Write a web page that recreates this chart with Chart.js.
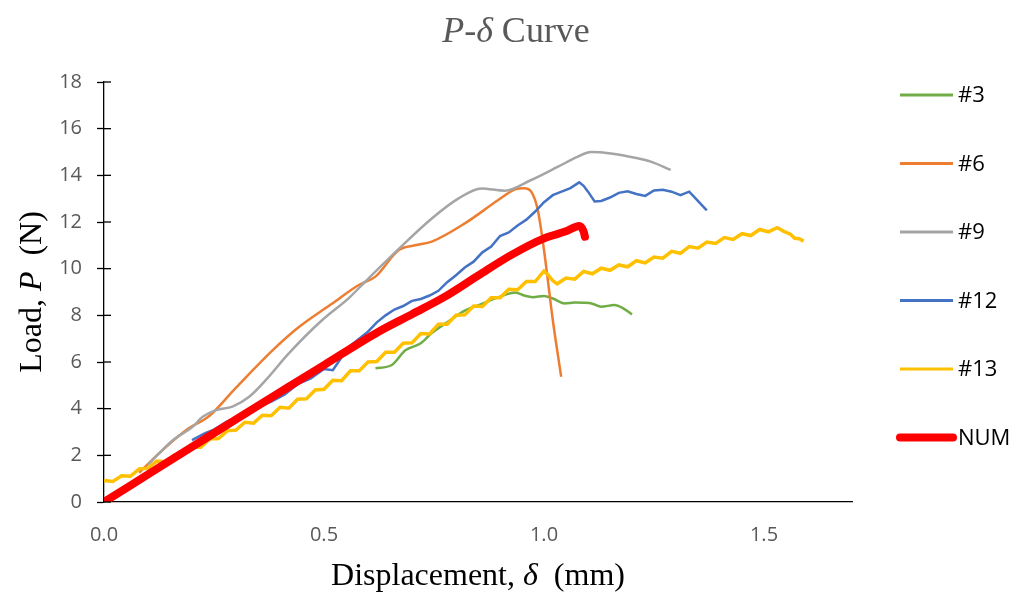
<!DOCTYPE html>
<html>
<head>
<meta charset="utf-8">
<title>P-δ Curve</title>
<script src="https://cdn.jsdelivr.net/npm/chart.js@4.4.1/dist/chart.umd.min.js"></script>
<style>
  html, body { margin: 0; padding: 0; background: #fff; }
  #wrap { width: 1016px; height: 594px; }
</style>
</head>
<body>
<div id="wrap"><canvas id="pdChart" width="1016" height="594"></canvas></div>
<script>
// Specimen #3
const disp3 = [0.617, 0.654, 0.685, 0.72, 0.745, 0.78, 0.82, 0.86, 0.9, 0.935, 0.955, 0.975, 1.0, 1.02, 1.047, 1.07, 1.09, 1.11, 1.13, 1.16, 1.18, 1.2];
const load3 = [5.73, 5.87, 6.5, 6.8, 7.24, 7.7, 8.2, 8.5, 8.8, 8.98, 8.85, 8.78, 8.83, 8.72, 8.51, 8.55, 8.54, 8.5, 8.37, 8.44, 8.3, 8.04];

// Specimen #6
const disp6 = [0.08, 0.12, 0.187, 0.24, 0.30, 0.383, 0.443, 0.518, 0.579, 0.617, 0.67, 0.707, 0.745, 0.82, 0.896, 0.934, 0.955, 0.971, 0.986, 1.0, 1.02, 1.039];
const load6 = [1.25, 2.0, 3.09, 3.7, 4.9, 6.5, 7.5, 8.5, 9.3, 9.66, 10.8, 11.0, 11.16, 11.94, 12.94, 13.4, 13.45, 13.3, 12.5, 10.8, 7.8, 5.37];

// Specimen #9
const disp9 = [0.1, 0.157, 0.2, 0.225, 0.255, 0.292, 0.33, 0.368, 0.42, 0.496, 0.557, 0.594, 0.67, 0.745, 0.805, 0.858, 0.911, 0.971, 1.032, 1.077, 1.107, 1.152, 1.213, 1.243, 1.288];
const load9 = [1.6, 2.66, 3.2, 3.66, 3.94, 4.09, 4.51, 5.23, 6.37, 7.8, 8.75, 9.45, 10.85, 12.15, 13.0, 13.44, 13.34, 13.8, 14.37, 14.8, 15.0, 14.94, 14.73, 14.59, 14.23];

// Specimen #12
const disp12 = [0.20, 0.23, 0.25, 0.28, 0.31, 0.35, 0.38, 0.41, 0.44, 0.47, 0.50, 0.52, 0.54, 0.56, 0.58, 0.60, 0.62, 0.64, 0.66, 0.68, 0.70, 0.72, 0.74, 0.76, 0.78, 0.80, 0.82, 0.84, 0.86, 0.88, 0.90, 0.92, 0.94, 0.96, 0.98, 1.00, 1.02, 1.04, 1.06, 1.08, 1.09, 1.10, 1.115, 1.13, 1.15, 1.17, 1.19, 1.21, 1.23, 1.25, 1.27, 1.29, 1.31, 1.33, 1.345, 1.355, 1.37];
const load12 = [2.65, 2.95, 3.10, 3.45, 3.60, 4.05, 4.30, 4.60, 5.05, 5.30, 5.70, 5.65, 6.20, 6.70, 7.00, 7.30, 7.70, 8.00, 8.25, 8.40, 8.62, 8.70, 8.85, 9.05, 9.42, 9.72, 10.05, 10.30, 10.70, 10.95, 11.40, 11.55, 11.85, 12.10, 12.45, 12.85, 13.15, 13.30, 13.45, 13.70, 13.55, 13.30, 12.88, 12.90, 13.05, 13.25, 13.32, 13.20, 13.12, 13.35, 13.38, 13.30, 13.15, 13.30, 13.00, 12.80, 12.50];

// Specimen #13
const disp13 = [0, 0.02, 0.04, 0.06, 0.08, 0.10, 0.12, 0.14, 0.16, 0.18, 0.20, 0.22, 0.24, 0.26, 0.28, 0.30, 0.32, 0.34, 0.36, 0.38, 0.40, 0.42, 0.44, 0.46, 0.48, 0.50, 0.52, 0.54, 0.56, 0.58, 0.60, 0.62, 0.64, 0.66, 0.68, 0.70, 0.72, 0.74, 0.76, 0.78, 0.80, 0.82, 0.84, 0.86, 0.88, 0.90, 0.92, 0.94, 0.96, 0.98, 1.00, 1.01, 1.02, 1.03, 1.05, 1.07, 1.09, 1.11, 1.13, 1.15, 1.17, 1.19, 1.21, 1.23, 1.25, 1.27, 1.29, 1.31, 1.33, 1.35, 1.37, 1.39, 1.41, 1.43, 1.45, 1.47, 1.49, 1.51, 1.53, 1.545, 1.56, 1.57, 1.58, 1.59];
const load13 = [0.92, 0.88, 1.12, 1.10, 1.42, 1.45, 1.75, 1.72, 2.02, 2.05, 2.36, 2.35, 2.70, 2.72, 3.05, 3.08, 3.42, 3.38, 3.72, 3.70, 4.06, 4.02, 4.40, 4.42, 4.80, 4.83, 5.22, 5.20, 5.62, 5.62, 6.00, 6.02, 6.42, 6.42, 6.80, 6.82, 7.22, 7.20, 7.62, 7.62, 8.00, 8.02, 8.40, 8.38, 8.75, 8.75, 9.12, 9.10, 9.45, 9.45, 9.90, 9.72, 9.48, 9.35, 9.60, 9.55, 9.88, 9.78, 10.02, 9.93, 10.16, 10.08, 10.34, 10.25, 10.50, 10.45, 10.74, 10.66, 10.95, 10.88, 11.14, 11.08, 11.33, 11.25, 11.50, 11.42, 11.68, 11.58, 11.76, 11.60, 11.48, 11.30, 11.28, 11.18];

// Numerical model
const dispNum = [0, 0.1, 0.2, 0.3, 0.42, 0.5, 0.624, 0.7, 0.775, 0.85, 0.925, 1.0, 1.05, 1.08, 1.09, 1.093];
const loadNum = [0, 1.18, 2.36, 3.54, 4.94, 5.87, 7.3, 8.05, 8.8, 9.7, 10.58, 11.3, 11.6, 11.83, 11.6, 11.37];

const xTicks = [0, 0.5, 1.0, 1.5];

function pts(xs, ys) {
    return xs.map((x, i) => ({ x: x, y: ys[i] }));
}

const datasets = [
    { label: '#3', data: pts(disp3, load3), borderColor: '#70AD47', borderWidth: 2.5, cubicInterpolationMode: 'monotone', order: 6 },
    { label: '#6', data: pts(disp6, load6), borderColor: '#ED7D31', borderWidth: 2.5, cubicInterpolationMode: 'monotone', order: 5 },
    { label: '#9', data: pts(disp9, load9), borderColor: '#A5A5A5', borderWidth: 2.5, cubicInterpolationMode: 'monotone', order: 4 },
    { label: '#12', data: pts(disp12, load12), borderColor: '#4472C4', borderWidth: 2.5, order: 3 },
    { label: '#13', data: pts(disp13, load13), borderColor: '#FFC000', borderWidth: 3.5, order: 2 },
    { label: 'NUM', data: pts(dispNum, loadNum), borderColor: '#FF0000', borderWidth: 8, cubicInterpolationMode: 'monotone',
      borderCapStyle: 'round', borderJoinStyle: 'round', order: 1 }
];
datasets.forEach(d => { d.showLine = true; d.pointRadius = 0; d.fill = false; });

// draws a string made of upright and italic pieces, centred on cx
function drawRich(ctx, parts, cx, baseline, size, color) {
    const fontOf = it => (it ? 'italic ' : '') + size + 'px "Liberation Serif", "Times New Roman", serif';
    let total = 0;
    parts.forEach(p => { ctx.font = fontOf(p[1]); total += ctx.measureText(p[0]).width; });
    let x = cx - total / 2;
    ctx.fillStyle = color;
    ctx.textBaseline = 'alphabetic';
    ctx.textAlign = 'left';
    parts.forEach(p => {
        ctx.font = fontOf(p[1]);
        ctx.fillText(p[0], x, baseline);
        x += ctx.measureText(p[0]).width;
    });
}

const extrasPlugin = {
    id: 'pdExtras',
    afterDraw(chart) {
        const ctx = chart.ctx;
        const area = chart.chartArea;
        const yScale = chart.scales.y;
        ctx.save();

        // inner half of the y tick marks
        ctx.strokeStyle = '#000';
        ctx.lineWidth = 1.3;
        yScale.ticks.forEach(t => {
            const py = yScale.getPixelForValue(t.value);
            ctx.beginPath();
            ctx.moveTo(area.left, py);
            ctx.lineTo(area.left + 7, py);
            ctx.stroke();
        });

        // title and axis titles
        drawRich(ctx, [['P', true], ['-', false], ['δ', true], [' Curve', false]], 516, 42, 36, '#595959');
        drawRich(ctx, [['Displacement, ', false], ['δ', true], ['  (mm)', false]], (area.left + area.right) / 2, 585, 32, '#000');
        ctx.save();
        ctx.translate(41, (area.top + area.bottom) / 2);
        ctx.rotate(-Math.PI / 2);
        drawRich(ctx, [['Load, ', false], ['P', true], ['  (N)', false]], 0, 0, 32, '#000');
        ctx.restore();

        // legend
        chart.data.datasets.forEach((ds, i) => {
            const y = 95 + i * 68.5;
            ctx.strokeStyle = ds.borderColor;
            ctx.lineWidth = ds.borderWidth > 4 ? 8 : 3;
            ctx.lineCap = ds.borderWidth > 4 ? 'round' : 'butt';
            ctx.beginPath();
            ctx.moveTo(900, y);
            ctx.lineTo(953, y);
            ctx.stroke();
            ctx.fillStyle = '#000';
            ctx.font = '22px "Open Sans", sans-serif';
            ctx.textAlign = 'left';
            ctx.textBaseline = 'middle';
            ctx.fillText(ds.label, 958, y + 1);
        });
        ctx.restore();
    }
};

const tickFont = { family: '"Open Sans", sans-serif', size: 20 };

new Chart(document.getElementById('pdChart').getContext('2d'), {
    type: 'scatter',
    data: { datasets: datasets },
    options: {
        responsive: false,
        animation: false,
        layout: { padding: { top: 82, right: 164, bottom: 0, left: 0 } },
        plugins: {
            legend: { display: false },
            title: { display: false },
            tooltip: { enabled: false }
        },
        scales: {
            x: {
                type: 'linear',
                min: 0,
                max: 1.7,
                afterBuildTicks: s => { s.ticks = xTicks.map(v => ({ value: v })); },
                afterFit: s => { s.height = 92; },
                ticks: {
                    color: '#595959',
                    font: tickFont,
                    padding: 21,
                    callback: v => Number(v).toFixed(1)
                },
                grid: { display: false, drawTicks: false },
                border: { color: '#000', width: 1.3 }
            },
            y: {
                min: 0,
                max: 18,
                afterFit: s => { s.width = 104; },
                ticks: { stepSize: 2, color: '#595959', font: tickFont, padding: 15 },
                grid: { display: true, drawOnChartArea: false, drawTicks: true, tickLength: 7, tickColor: '#000', tickWidth: 1.3 },
                border: { color: '#000', width: 1.3 }
            }
        }
    },
    plugins: [extrasPlugin]
});
</script>
</body>
</html>
